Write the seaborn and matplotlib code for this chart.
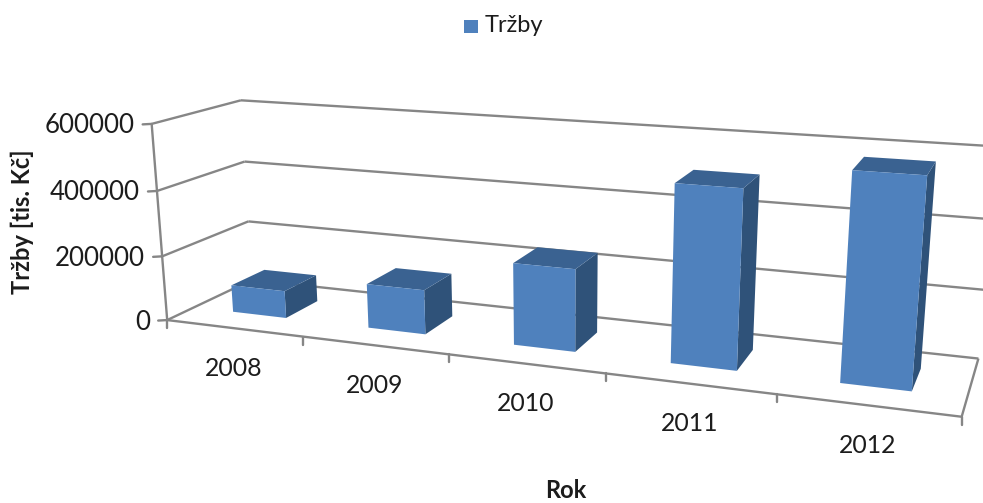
import numpy as np
import matplotlib
matplotlib.use("Agg")
import matplotlib.pyplot as plt
import seaborn as sns

years = ["2008", "2009", "2010", "2011", "2012"]
sales = [85000, 135000, 243000, 508000, 576000]
value_ticks = [0, 200000, 400000, 600000]
value_labels = ["0", "200000", "400000", "600000"]
value_max = 600000

sns.set_theme(style="white")
plt.rcParams["font.family"] = ["Lato", "DejaVu Sans"]

W, H = 983, 503
GRID = "#868686"
FRONT, TOP, SIDE = "#4F81BD", "#3A6291", "#2F5279"
TEXT = "#1C1C1C"
BAR_SHARE = 0.40
DEPTH_NEAR, DEPTH_FAR = 0.30, 0.70

# Perspective camera: (category, value, depth) in unit cube -> canvas position
cube = np.array([
    (0, 0, 0), (0, 1, 0), (0, 0, 1), (0, 1, 1), (0, 2/3, 1), (0, 1/3, 1),
    (0, 2/3, 0), (0, 1/3, 0), (1, 0, 0), (1, 0, 1), (1, 1, 1),
    (1, 2/3, 1), (1, 1/3, 1), (1, 1, 0),
    (.2, 0, 0), (.4, 0, 0), (.8, 0, 0),
], float)
canvas = np.array([
    (168.3, 319.3), (151.7, 123.3), (251.7, 281.7), (241, 100.3), (245, 161.7), (248.3, 221.7),
    (156.7, 190), (161.7, 255.7), (962.7, 415), (978.3, 358.3), (996, 145),
    (990.5, 218), (984, 289.8), (981, 185),
    (302.3, 336.5), (448.3, 355), (776, 395),
], float)
rows, rhs = [], []
for (a, b, c), (x, y) in zip(cube, canvas):
    rows.append([a, b, c, 1, 0, 0, 0, 0, -x*a, -x*b, -x*c])
    rows.append([0, 0, 0, 0, a, b, c, 1, -y*a, -y*b, -y*c])
    rhs += [x, y]
sol = np.linalg.lstsq(np.array(rows), np.array(rhs), rcond=None)[0]
CAMERA = np.append(sol, 1).reshape(3, 4)


def project(u, v, w):
    p = CAMERA @ np.array([u, v, w, 1.0])
    return p[0] / p[2], p[1] / p[2]


fig = plt.figure(figsize=(W / 100, H / 100), dpi=100)
ax = fig.add_axes([0, 0, 1, 1])
ax.set_xlim(0, W)
ax.set_ylim(H, 0)
ax.set_axis_off()


def seg(a, b, lw=1.7, z=1):
    (x0, y0), (x1, y1) = project(*a), project(*b)
    ax.plot([x0, x1], [y0, y1], color=GRID, lw=lw, zorder=z, solid_capstyle="butt")


# Walls and floor
for t, label in zip(value_ticks, value_labels):
    v = t / value_max
    seg((0, v, 0), (0, v, 1))
    seg((0, v, 1), (1, v, 1))
    x, y = project(0, v, 0)
    ax.plot([x - 9, x], [y + 0.5, y], color=GRID, lw=1.7, zorder=1)
    ax.text(x - 17, y + 2, label, ha="right", va="center", fontsize=18.6, color=TEXT)
seg((0, 0, 0), (0, 1, 0))
seg((0, 0, 0), (1, 0, 0))
seg((1, 0, 0), (1, 0, 1))

# Category ticks and labels along the front edge of the floor
for i in range(len(years) + 1):
    x, y = project(i / len(years), 0, 0)
    ax.plot([x, x], [y, y + 8], color=GRID, lw=1.7, zorder=1)
for i, yr in enumerate(years):
    x, y = project((i + 0.5) / len(years), 0, 0)
    ax.text(x, y + 40, yr, ha="center", va="center", fontsize=17.8, color=TEXT)

# Bars as three visible faces of a box
n = len(years)
for i, val in enumerate(sales):
    u0 = (i + 0.5 - BAR_SHARE / 2) / n
    u1 = (i + 0.5 + BAR_SHARE / 2) / n
    v = val / value_max
    n0, n1 = DEPTH_NEAR, DEPTH_FAR
    faces = [
        ([(u1, 0, n0), (u1, 0, n1), (u1, v, n1), (u1, v, n0)], SIDE),
        ([(u0, v, n0), (u1, v, n0), (u1, v, n1), (u0, v, n1)], TOP),
        ([(u0, 0, n0), (u1, 0, n0), (u1, v, n0), (u0, v, n0)], FRONT),
    ]
    for corners, colour in faces:
        pts = [project(*c) for c in corners]
        ax.fill(*zip(*pts), color=colour, lw=0, zorder=3 + i * 0.1)

# Legend, axis titles
ax.fill([464, 478, 478, 464], [20, 20, 33, 33], color=FRONT, lw=0)
ax.text(485, 25, "Tržby", ha="left", va="center", fontsize=17, color=TEXT)
ax.text(22, 222, "Tržby [tis. Kč]", rotation=90, ha="center", va="center",
        fontsize=17, fontweight="bold", color=TEXT)
ax.text(566, 491, "Rok", ha="center", va="center", fontsize=17, fontweight="bold", color=TEXT)

fig.savefig("out.png", dpi=100, facecolor="white")
